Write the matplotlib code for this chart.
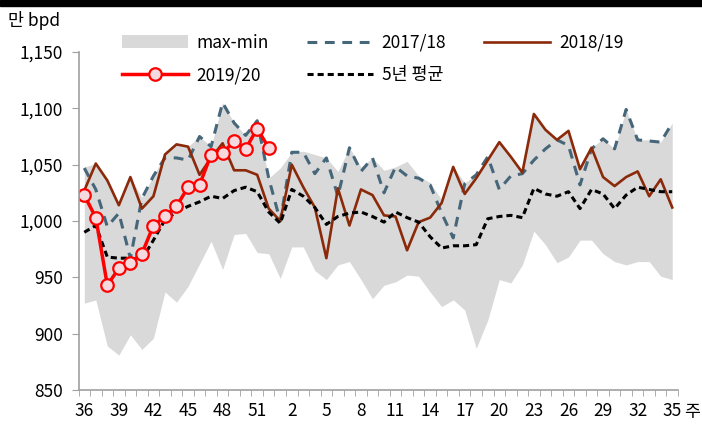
import matplotlib
matplotlib.use('Agg')
import matplotlib.pyplot as plt
from matplotlib.patches import Patch, Rectangle
from matplotlib.lines import Line2D
from matplotlib.ticker import FuncFormatter, MultipleLocator
import numpy as np

plt.rcParams['font.family'] = ['Noto Sans CJK KR', 'DejaVu Sans']

# weeks 36..52 then 1..35
weeks = list(range(36, 53)) + list(range(1, 36))

band_max = [1048, 1051, 1036, 1014, 1039, 1021, 1040, 1059, 1068, 1066,
            1075, 1066, 1105, 1087, 1076, 1089, 1038, 1047, 1061, 1062,
            1059, 1056, 1044, 1065, 1048, 1056, 1045, 1048, 1053, 1040,
            1034, 1019, 1048, 1034, 1041, 1057, 1070, 1057, 1043, 1095,
            1081, 1072, 1080, 1046, 1065, 1073, 1064, 1099, 1072, 1072,
            1070, 1087]
band_min = [927, 930, 889, 881, 899, 886, 896, 937, 928, 942,
            962, 982, 957, 988, 989, 972, 971, 949, 977, 977,
            956, 948, 961, 964, 948, 931, 943, 946, 952, 951,
            937, 924, 930, 921, 887, 912, 948, 945, 961, 991,
            979, 963, 968, 983, 983, 971, 964, 961, 964, 964,
            951, 948]
y1718 = [1047, 1028, 995, 1007, 967, 1020, 1040, 1056, 1056, 1054,
         1075, 1066, 1105, 1087, 1076, 1089, 1038, 1000, 1061, 1061,
         1042, 1056, 1022, 1065, 1044, 1056, 1025, 1048, 1040, 1038,
         1032, 1007, 985, 1033, 1041, 1057, 1028, 1040, 1042, 1054,
         1064, 1072, 1067, 1032, 1064, 1073, 1064, 1099, 1072, 1071,
         1070, 1087]
y1819 = [1027, 1051, 1036, 1014, 1039, 1011, 1022, 1059, 1068, 1066,
         1041, 1056, 1069, 1045, 1045, 1041, 1011, 1000, 1050, 1030,
         1012, 967, 1029, 996, 1028, 1023, 1005, 1004, 974, 999,
         1003, 1016, 1048, 1024, 1038, 1054, 1070, 1057, 1043, 1095,
         1081, 1072, 1080, 1046, 1065, 1039, 1031, 1039, 1044, 1022,
         1037, 1012]
y1920 = [1023, 1003, 943, 958, 963, 971, 996, 1004, 1013, 1030,
         1032, 1059, 1060, 1071, 1064, 1082, 1065]
avg5 = [990, 996, 968, 967, 967, 966, 983, 1001, 1008, 1013,
        1017, 1022, 1020, 1027, 1030, 1026, 1008, 998, 1028, 1022,
        1012, 997, 1004, 1007, 1008, 1004, 999, 1008, 1003, 999,
        986, 976, 978, 978, 979, 1002, 1004, 1005, 1003, 1029,
        1024, 1022, 1026, 1011, 1028, 1024, 1011, 1023, 1030, 1028,
        1026, 1026]

x = np.arange(len(weeks))

fig = plt.figure(figsize=(7.02, 4.24), dpi=100)
ax = fig.add_axes([78.5 / 702, 34 / 424, (678 - 78.5) / 702, 338 / 424])

ax.fill_between(x, band_min, band_max, color='#d9d9d9', lw=0)
ax.plot(x, y1718, color='#46667a', lw=2.2, dashes=(3.2, 2.5))
ax.plot(x, y1819, color='#8b2a0a', lw=1.9)
ax.plot(x, avg5, color='black', lw=2.2, dashes=(2, 1.3))
ax.plot(x[:len(y1920)], y1920, color='red', lw=2.5, marker='o', ms=9,
        mfc='#f4d9de', mec='red', mew=1.6)

ax.set_xlim(-0.5, len(weeks) - 0.5)
ax.set_ylim(850, 1150)
ax.yaxis.set_major_locator(MultipleLocator(50))
ax.yaxis.set_major_formatter(FuncFormatter(lambda v, p: f'{int(v):,}'))
ax.set_xticks(x[::3])
ax.set_xticklabels([str(w) for w in weeks[::3]])
ax.set_xticks(np.arange(-0.5, len(weeks)), minor=True)
ax.tick_params(axis='x', which='major', length=0, labelsize=12.5, pad=9)
ax.tick_params(axis='x', which='minor', length=4, color='#a0a0a0', direction='out')
ax.tick_params(axis='y', length=5, color='#a0a0a0', labelsize=12.5, pad=6)

for s in ['top', 'right']:
    ax.spines[s].set_visible(False)
for s in ['left', 'bottom']:
    ax.spines[s].set_color('#a0a0a0')
    ax.spines[s].set_linewidth(1.2)

fig.text(684 / 702, 1 - 412 / 424, '주', ha='left', va='center', fontsize=12.5)
fig.text(8 / 702, 1 - 20 / 424, '만 bpd', ha='left', va='center', fontsize=12.5)

# black strip at the very top
fig.patches.append(Rectangle((0, 1 - 6 / 424), 1, 6 / 424, transform=fig.transFigure,
                             color='black', zorder=10))

h_band = Patch(color='#d9d9d9', lw=0)
h_1718 = Line2D([], [], color='#46667a', lw=2.2, dashes=(3.2, 2.5))
h_1819 = Line2D([], [], color='#8b2a0a', lw=1.9)
h_1920 = Line2D([], [], color='red', lw=2.5, marker='o', ms=9, mfc='#f4d9de', mec='red', mew=1.6)
h_avg = Line2D([], [], color='black', lw=2.2, dashes=(2, 1.3))

fig.legend([h_band, h_1920, h_1718, h_avg, h_1819],
           ['max-min', '2019/20', '2017/18', '5년 평균', '2018/19'],
           ncol=3, loc='upper left', bbox_to_anchor=(106 / 702, 1 - 18 / 424),
           frameon=False, fontsize=12.5, handlelength=3.8, handletextpad=0.5,
           columnspacing=2.2, labelspacing=0.85)

fig.savefig('out.png', dpi=100)
